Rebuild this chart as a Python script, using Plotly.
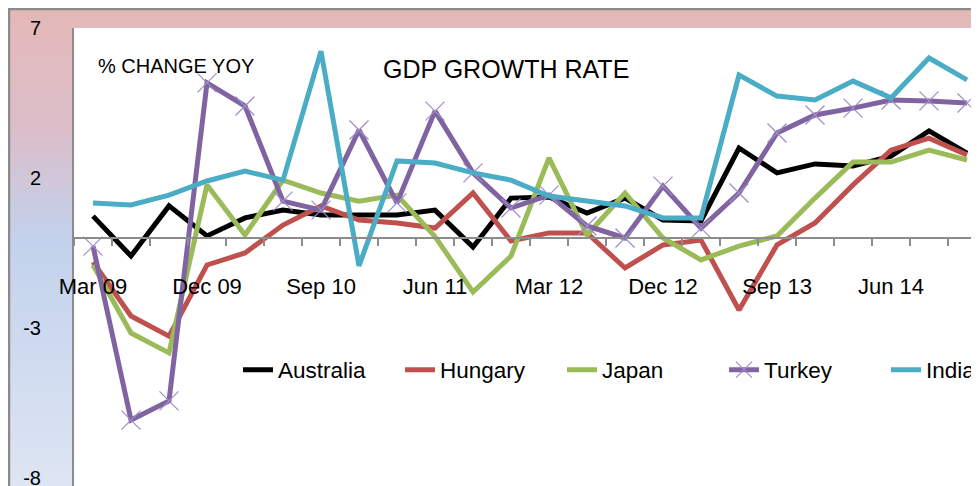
import plotly.graph_objects as go

quarters = ["Mar 09", "Jun 09", "Sep 09", "Dec 09",
            "Mar 10", "Jun 10", "Sep 10", "Dec 10",
            "Mar 11", "Jun 11", "Sep 11", "Dec 11",
            "Mar 12", "Jun 12", "Sep 12", "Dec 12",
            "Mar 13", "Jun 13", "Sep 13", "Dec 13",
            "Mar 14", "Jun 14", "Sep 14", "Dec 14"]
shown_labels = ["Mar 09", "Dec 09", "Sep 10", "Jun 11", "Mar 12", "Dec 12", "Sep 13", "Jun 14"]

australia = [0.73, -0.6, 1.07, 0.07, 0.67, 0.93, 0.77, 0.77, 0.77, 0.93, -0.3, 1.33,
             1.37, 0.83, 1.33, 0.6, 0.57, 3.0, 2.17, 2.47, 2.4, 2.73, 3.57, 2.83]
hungary = [-0.8, -2.6, -3.27, -0.9, -0.5, 0.43, 1.07, 0.6, 0.5, 0.33, 1.5, -0.1,
           0.17, 0.17, -1.0, -0.23, -0.07, -2.4, -0.23, 0.5, 1.77, 2.93, 3.33, 2.77]
japan = [-0.9, -3.17, -3.83, 1.77, 0.1, 1.93, 1.5, 1.23, 1.43, 0.05, -1.8, -0.6,
         2.67, 0.1, 1.5, 0.0, -0.73, -0.27, 0.07, 1.33, 2.53, 2.53, 2.93, 2.6]
turkey = [-0.27, -6.07, -5.43, 5.17, 4.4, 1.23, 0.93, 3.6, 1.17, 4.23, 2.17, 1.0,
          1.43, 0.4, 0.0, 1.73, 0.33, 1.5, 3.5, 4.1, 4.33, 4.6, 4.57, 4.5]
india = [1.17, 1.1, 1.43, 1.9, 2.23, 1.93, 6.23, -0.93, 2.57, 2.5, 2.17, 1.93,
         1.4, 1.23, 1.07, 0.67, 0.67, 5.43, 4.73, 4.6, 5.23, 4.67, 6.0, 5.27]

y_ticks = [-8, -3, 2, 7]
Y_MIN, Y_MAX = -8.367, 7

# The page body has an 8px margin; figure coords = page coords - 8
OFF = 8
W, H = 1080, 481
ML, MT, MB = 66, 20, 0
PLOT_RIGHT = 978
MR = W - PLOT_RIGHT
PW, PH = W - ML - MR, H - MT - MB
FONT = "Liberation Sans, Arial, sans-serif"


def px_x(p):
    return (p - OFF - ML) / PW


def px_y(p):
    return (H - MB - (p - OFF)) / PH


fig = go.Figure()

series = [
    ("Australia", australia, "#000000"),
    ("Hungary", hungary, "#c0504d"),
    ("Japan", japan, "#9bbb59"),
    ("Turkey", turkey, "#8064a2"),
    ("India", india, "#4bacc6"),
]
for name, vals, col in series:
    if name == "Turkey":
        fig.add_trace(go.Scatter(
            x=quarters, y=vals, name=name, mode="lines+markers",
            line=dict(color=col, width=5),
            marker=dict(symbol="x-thin", size=19, color="#9e8cc8",
                        line=dict(color="#9e8cc8", width=1.2)),
        ))
    else:
        fig.add_trace(go.Scatter(
            x=quarters, y=vals, name=name, mode="lines",
            line=dict(color=col, width=5),
        ))

# gradient background (chart area) built from bands
stops = [(8, (229, 184, 184)), (130, (219, 190, 201)), (240, (194, 210, 236)), (486, (222, 229, 243))]


def col_at(yp):
    for (y0, c0), (y1, c1) in zip(stops[:-1], stops[1:]):
        if y0 <= yp <= y1:
            t = (yp - y0) / (y1 - y0)
            return "rgb(%d,%d,%d)" % tuple(round(a + (b - a) * t) for a, b in zip(c0, c1))
    return "rgb(%d,%d,%d)" % stops[-1][1]


shapes = []
step = 6
yp = 8
while yp < 492:
    y2 = yp + step
    shapes.append(dict(type="rect", xref="paper", yref="paper", layer="below",
                       x0=px_x(0), x1=px_x(W + 20), y0=px_y(y2 + 0.5), y1=px_y(yp),
                       fillcolor=col_at((yp + y2) / 2), line=dict(width=0)))
    yp = y2
# white plot area
shapes.append(dict(type="rect", xref="paper", yref="paper", layer="below",
                   x0=0, x1=1, y0=px_y(500), y1=1, fillcolor="white", line=dict(width=0)))
# chart border (top & left)
shapes.append(dict(type="line", xref="paper", yref="paper", layer="below",
                   x0=px_x(7), x1=px_x(W + 20), y0=px_y(9), y1=px_y(9),
                   line=dict(color="#8a8a8a", width=2.5)))
shapes.append(dict(type="line", xref="paper", yref="paper", layer="below",
                   x0=px_x(9), x1=px_x(9), y0=px_y(9), y1=px_y(500),
                   line=dict(color="#8a8a8a", width=2.5)))

fig.update_layout(
    width=W, height=H,
    margin=dict(l=ML, r=MR, t=MT, b=MB, pad=0),
    paper_bgcolor="white", plot_bgcolor="white",
    shapes=shapes,
    font=dict(family=FONT, color="black"),
    showlegend=True,
    legend=dict(orientation="h", x=px_x(238), xanchor="left",
                y=px_y(370), yanchor="middle", bgcolor="rgba(0,0,0,0)",
                font=dict(size=22.5, family=FONT), entrywidth=117, entrywidthmode="pixels"),
    xaxis=dict(type="category", categoryorder="array", categoryarray=quarters,
               range=[-0.5, len(quarters) - 0.5], anchor="free",
               position=(0 - Y_MIN) / (Y_MAX - Y_MIN),
               showline=True, linecolor="#8c8c8c", linewidth=2,
               ticks="outside", ticklen=7, tickcolor="#8c8c8c", tickwidth=2,
               tickson="boundaries", tickvals=quarters,
               ticktext=[q if q in shown_labels else "" for q in quarters],
               tickangle=0, ticklabelstandoff=29,
               tickfont=dict(size=22, family=FONT), showgrid=False, zeroline=False),
    yaxis=dict(range=[Y_MIN, Y_MAX], tickvals=y_ticks, ticktext=[str(v) for v in y_ticks],
               showline=True, linecolor="#8c8c8c", linewidth=2, ticks="",
               ticklabelstandoff=27, tickfont=dict(size=20, family=FONT),
               ticklabeloverflow="allow",
               showgrid=False, zeroline=False),
    annotations=[
        dict(text="% CHANGE YOY", xref="paper", yref="paper", x=px_x(176), y=px_y(66),
             showarrow=False, font=dict(size=20, family=FONT), xanchor="center", yanchor="middle"),
        dict(text="GDP GROWTH RATE", xref="paper", yref="paper", x=px_x(506), y=px_y(69),
             showarrow=False, font=dict(size=25, family=FONT), xanchor="center", yanchor="middle"),
    ],
)

fig.write_html("out.html")
